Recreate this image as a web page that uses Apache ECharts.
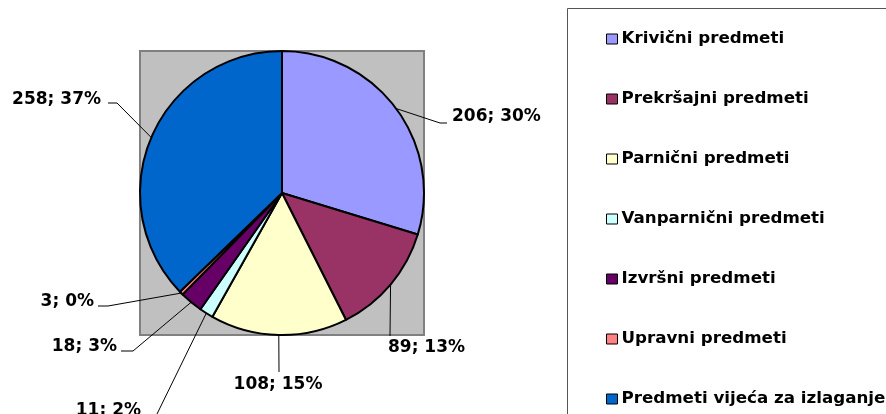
<!DOCTYPE html>
<html>
<head>
<meta charset="utf-8">
<script src="https://cdn.jsdelivr.net/npm/echarts@6/dist/echarts.min.js"></script>
<style>
  html, body { margin: 0; padding: 0; background: #fff; }
  #chart { width: 886px; height: 414px; }
</style>
</head>
<body>
<div id="chart"></div>
<script>
var categories = ['Krivični predmeti', 'Prekršajni predmeti', 'Parnični predmeti', 'Vanparnični predmeti',
    'Izvršni predmeti', 'Upravni predmeti', 'Predmeti vijeća za izlaganje']
var counts = [206, 89, 108, 11, 18, 3, 258]
var percentLabels = [30, 13, 15, 2, 3, 0, 37]
var colors = ['#9999FF', '#993366', '#FFFFCC', '#CCFFFF', '#660066', '#FF8080', '#0066CC']

// where each leader line bends/ends and where its label sits (pixels)
var labelSpots = [
    { bend: [440, 123], end: [447, 123], x: 452, y: 117, align: 'left' },
    { bend: [390, 336], end: [390, 336], x: 388, y: 348, align: 'left' },
    { bend: [279, 372], end: [279, 372], x: 278, y: 385, align: 'center' },
    { bend: [157, 414], end: [157, 414], x: 141, y: 411, align: 'right' },
    { bend: [133, 351], end: [121, 351], x: 117, y: 347, align: 'right' },
    { bend: [108, 306], end: [98, 306], x: 94, y: 302, align: 'right' },
    { bend: [117, 103], end: [108, 103], x: 101, y: 100, align: 'right' }
]

var font = 'DejaVu Sans'
var chart = echarts.init(document.getElementById('chart'))

var option = {
    animation: false,
    color: colors,
    graphic: [
        {
            type: 'rect',
            z: -10,
            shape: { x: 140, y: 51, width: 284, height: 284 },
            style: { fill: '#C0C0C0', stroke: '#808080', lineWidth: 2 }
        },
        {
            type: 'rect',
            z: -10,
            shape: { x: 567.5, y: 8.5, width: 400, height: 500 },
            style: { fill: 'none', stroke: '#555', lineWidth: 1 }
        }
    ],
    legend: {
        orient: 'vertical',
        left: 606,
        top: 30.5,
        height: 400,
        padding: 0,
        itemGap: 43,
        itemWidth: 11,
        itemHeight: 10,
        icon: 'rect',
        itemStyle: { borderColor: '#000', borderWidth: 1 },
        textStyle: {
            fontFamily: font,
            fontWeight: 'bold',
            fontSize: 16.7,
            lineHeight: 17,
            color: '#000',
            padding: [0, 0, 0, -1]
        },
        data: categories
    },
    series: [{
        type: 'pie',
        center: [282, 193],
        radius: 142,
        startAngle: 90,
        clockwise: true,
        avoidLabelOverlap: false,
        itemStyle: { borderColor: '#000', borderWidth: 2 },
        label: {
            show: true,
            position: 'outside',
            fontFamily: font,
            fontWeight: 'bold',
            fontSize: 17,
            color: '#000',
            formatter: function (p) {
                return p.value + '; ' + percentLabels[p.dataIndex] + '%'
            }
        },
        labelLine: {
            show: true,
            length: 20,
            length2: 10,
            lineStyle: { color: '#000', width: 1 }
        },
        labelLayout: function (params) {
            var s = labelSpots[params.dataIndex]
            var start = params.labelLinePoints ? params.labelLinePoints[0] : s.bend
            return {
                x: s.x,
                y: s.y,
                align: s.align,
                verticalAlign: 'middle',
                labelLinePoints: [start, s.bend, s.end]
            }
        },
        emphasis: { disabled: true },
        data: categories.map(function (name, i) {
            return { name: name, value: counts[i] }
        })
    }]
}

chart.setOption(option)
</script>
</body>
</html>
